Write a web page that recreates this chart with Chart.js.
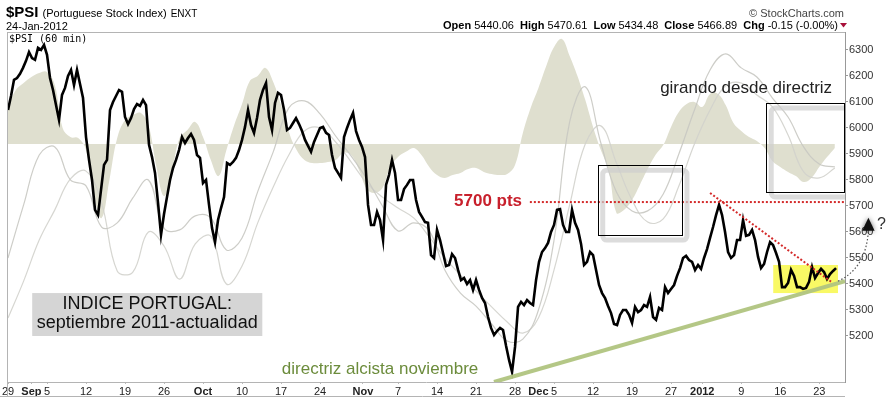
<!DOCTYPE html>
<html><head><meta charset="utf-8">
<script src="https://cdn.jsdelivr.net/npm/chart.js@4.4.1/dist/chart.umd.min.js"></script>
<style>html,body{margin:0;padding:0;background:#fff;overflow:hidden}canvas{display:block}</style>
</head><body>
<canvas id="c" width="888" height="398"></canvas>
<script>
// ---- x axis (trading days since 29-Aug-2011) ----
const tickDays   = [0,3,5,10,15,20,25,30,35,40,45.5,50,55,60,65,68,70,75,80,85,89,94,99,104];
const tickLabels = ['29','Sep','5','12','19','26','Oct','10','17','24','Nov','7','14','21','28','Dec','5','12','19','27','2012','9','16','23'];
const monthLabels = ['Sep','Oct','Nov','Dec','2012'];
// ---- y axis ----
const yTicks = [5200,5300,5400,5500,5600,5700,5800,5900,6000,6100,6200,6300];

// $PSI 60-min closes, sampled 2.6 times per trading day
const samplesPerDay = 2.6;
const psiValues = [
6069,6123,6185,6192,6208,6231,6258,6292,6269,6262,
6308,6300,6319,6281,6192,6146,6088,6031,6127,6154,
6200,6223,6165,6223,6169,6115,5965,5877,5800,5685,
5665,5762,5858,5877,6069,6100,6123,6146,6139,6042,
6015,6038,6073,6092,6085,6108,6088,5935,5888,5827,
5712,5589,5669,5735,5800,5846,5877,5915,5965,5942,
5961,5977,5954,5896,5885,5788,5800,5704,5615,5561,
5646,5692,5734,5865,5858,5869,5885,5915,5954,6004,
6069,6011,5981,6038,6108,6146,6173,6042,5992,6096,
6135,6127,6069,5992,6000,6019,6038,6015,5988,5954,
5931,5908,5946,5973,6000,6004,5981,5973,5896,5846,
5827,5808,5965,6000,6031,6058,5988,5954,5927,5888,
5704,5627,5627,5677,5646,5569,5781,5819,5877,5827,
5723,5723,5765,5781,5800,5800,5723,5677,5658,5638,
5635,5511,5500,5608,5569,5519,5469,5473,5515,5500,
5454,5415,5423,5400,5415,5377,5415,5377,5346,5327,
5273,5231,5204,5219,5231,5223,5162,5108,5062,5158,
5312,5331,5319,5338,5327,5319,5415,5485,5523,5538,
5558,5600,5627,5685,5688,5627,5600,5600,5685,5635,
5608,5554,5473,5485,5523,5511,5454,5396,5365,5346,
5315,5288,5246,5242,5281,5300,5300,5281,5250,5312,
5292,5300,5319,5312,5350,5273,5262,5308,5300,5388,
5365,5381,5396,5431,5461,5500,5508,5492,5485,5454,
5473,5458,5500,5534,5577,5619,5665,5704,5665,5600,
5523,5500,5511,5569,5569,5646,5585,5589,5608,5569,
5504,5461,5477,5523,5561,5550,5519,5485,5388,5388,
5404,5454,5431,5388,5388,5381,5385,5408,5465,5423,
5442,5458,5446,5419,5438,5450,5461];

// background oscillator (one value per trading day), filled around its centre line
const oscBaseline = 5938;
const oscValues = [
6080,6146,6173,6196,6211,6215,6165,6000,5965,5961,
5915,5742,5654,5800,5961,6031,6050,6058,6011,5854,
5738,5831,5961,5992,6023,5965,5877,5815,5915,6011,
6092,6181,6200,6231,6177,6088,5984,5915,5877,5865,
5865,5869,5877,5904,5896,5838,5765,5750,5769,5850,
5888,5908,5923,5896,5850,5819,5808,5819,5827,5842,
5846,5831,5823,5819,5823,5858,5981,6077,6154,6238,
6311,6342,6277,6200,6108,6004,5915,5838,5673,5685,
5723,5781,5842,5896,5934,6004,6061,6092,6100,6081,
6131,6131,6088,6019,5988,5965,5950,5923,5873,5850,
5831,5815,5792,5808,5850,5888,5923];

// faint overlay lines (one value every 2 trading days)
const overlayStepDays = 2;
const fastLine = [
5500,5704,5896,5927,5800,5777,5619,5635,5731,5800,
5615,5608,5662,5654,5531,5577,5754,5908,6077,6104,
6054,5969,5892,5804,5700,5604,5635,5604,5454,5365,
5315,5246,5181,5188,5300,5569,6023,6158,5942,5754,
5681,5681,5746,5900,6069,6223,6285,6231,6196,6115,
6042,5927,5861,5850];
const slowLine = [
5269,5411,5569,5685,5804,5834,5711,5450,5446,5600,
5546,5419,5554,5584,5400,5469,5634,5773,5896,5988,
6000,5946,5869,5788,5734,5692,5654,5581,5500,5434,
5373,5312,5254,5211,5269,5454,5704,5938,6008,5865,
5723,5638,5650,5777,5938,6069,6162,6173,6127,6081,
5973,5831,5808,5846];

const FONT = '"Liberation Sans", Arial, sans-serif';
Chart.defaults.font.family = FONT;

const pricePts = psiValues.map((v,i)=>({x:i/samplesPerDay, y:v}));
const oscPts = oscValues.map((v,k)=>({x:k, y:v}));
const fastPts = fastLine.map((v,j)=>({x:j*overlayStepDays, y:v}));
const slowPts = slowLine.map((v,j)=>({x:j*overlayStepDays, y:v}));

const annot = {
  id:'annot',
  beforeDatasetsDraw(chart){
    const {ctx, scales:{x:xs,y:ys}} = chart;
    const X=v=>xs.getPixelForValue(v), Y=v=>ys.getPixelForValue(v);
    ctx.save();
    ctx.fillStyle='#f9f965';
    ctx.fillRect(X(98.1), Y(5473), X(106.4)-X(98.1), Y(5365)-Y(5473));
    ctx.restore();
  },
  afterDatasetsDraw(chart){
    const {ctx, chartArea:a, scales:{x:xs,y:ys}} = chart;
    const X=v=>xs.getPixelForValue(v), Y=v=>ys.getPixelForValue(v);
    ctx.save();
    ctx.beginPath(); ctx.rect(a.left,a.top,a.right-a.left,a.bottom-a.top); ctx.clip();
    // green support line
    ctx.strokeStyle='rgba(176,196,128,0.95)'; ctx.lineWidth=4;
    ctx.beginPath(); ctx.moveTo(X(62.3),Y(5023)); ctx.lineTo(X(107.3),Y(5411)); ctx.stroke();
    // red 5700 level
    ctx.strokeStyle='#d42a2a'; ctx.lineWidth=2; ctx.setLineDash([2,2]);
    ctx.beginPath(); ctx.moveTo(X(66.9),Y(5715)); ctx.lineTo(a.right,Y(5715)); ctx.stroke();
    // red falling resistance
    ctx.beginPath(); ctx.moveTo(X(90.0),Y(5750)); ctx.lineTo(X(105.6),Y(5407)); ctx.stroke();
    ctx.setLineDash([]);
    // boxes with soft shadow
    const boxes = [[75.6,86.4,5588,5857],[97.2,107.2,5754,6096]];
    boxes.forEach(b=>{
      const x0=X(b[0]), x1=X(b[1]), y0=Y(b[3]), y1=Y(b[2]);
      ctx.strokeStyle='rgba(205,205,205,0.7)'; ctx.lineWidth=5;
      ctx.beginPath();
      if (ctx.roundRect) ctx.roundRect(x0+5,y0+5,x1-x0,y1-y0,4); else ctx.rect(x0+5,y0+5,x1-x0,y1-y0);
      ctx.stroke();
      ctx.strokeStyle='#000'; ctx.lineWidth=1;
      ctx.strokeRect(Math.round(x0)+0.5,Math.round(y0)+0.5,Math.round(x1-x0),Math.round(y1-y0));
    });
    // INDICE box
    const bx0=X(3.1), bx1=X(32.6), by0=Y(5365), by1=Y(5200);
    ctx.fillStyle='#d5d5d5'; ctx.fillRect(bx0,by0,bx1-bx0,by1-by0);
    ctx.fillStyle='#111'; ctx.textAlign='center'; ctx.textBaseline='alphabetic';
    ctx.font='18px '+FONT;
    ctx.fillText('INDICE PORTUGAL:', (bx0+bx1)/2, Y(5304));
    ctx.fillText('septiembre 2011-actualidad', (bx0+bx1)/2, Y(5231));
    // texts
    ctx.textAlign='right'; ctx.fillStyle='#c8202c'; ctx.font='bold 17px '+FONT;
    ctx.fillText('5700 pts', X(65.9), Y(5698));
    ctx.textAlign='left'; ctx.fillStyle='#222'; ctx.font='17px '+FONT;
    ctx.fillText('girando desde directriz', X(83.6), Y(6134));
    ctx.fillStyle='#6c8c3c'; ctx.font='17px '+FONT;
    ctx.fillText('directriz alcista noviembre', X(35.1), Y(5054));
    ctx.restore();
  },
  afterDraw(chart){
    const {ctx, chartArea:a, scales:{x:xs,y:ys}} = chart;
    const X=v=>xs.getPixelForValue(v), Y=v=>ys.getPixelForValue(v);
    ctx.save();
    // frame
    ctx.strokeStyle='#b4b4b4'; ctx.lineWidth=1;
    ctx.beginPath();
    ctx.moveTo(a.left,32.5); ctx.lineTo(a.right,32.5);
    ctx.moveTo(7.5,32); ctx.lineTo(7.5,396);
    ctx.moveTo(0,396.5); ctx.lineTo(a.right,396.5);
    ctx.stroke();
    // inner label
    ctx.fillStyle='#000'; ctx.font='10px "DejaVu Sans Mono", monospace'; ctx.textAlign='left';
    ctx.fillText('$PSI (60 min)', 9, 42);
    // header
    ctx.font='bold 15px '+FONT; ctx.fillText('$PSI',6,17);
    let w=ctx.measureText('$PSI').width;
    ctx.font='11px '+FONT; ctx.fillText('(Portuguese Stock Index)',6+w+4,17);
    let w2=ctx.measureText('(Portuguese Stock Index)').width;
    ctx.font='10px '+FONT; ctx.fillText('ENXT',6+w+4+w2+4,17);
    ctx.font='11px '+FONT; ctx.fillText('24-Jan-2012',6,30);
    ctx.fillStyle='#444'; ctx.textAlign='right'; ctx.fillText('\u00A9 StockCharts.com',844,17);
    const segs=[['Open',1],[' 5440.06  ',0],['High',1],[' 5470.61  ',0],['Low',1],[' 5434.48  ',0],['Close',1],[' 5466.89  ',0],['Chg',1],[' -0.15 (-0.00%)',0]];
    ctx.textAlign='left';
    let tot=0; segs.forEach(s=>{ctx.font=(s[1]?'bold ':'')+'11px '+FONT; tot+=ctx.measureText(s[0]).width;});
    let sx=838-tot; ctx.fillStyle='#000';
    segs.forEach(s=>{ctx.font=(s[1]?'bold ':'')+'11px '+FONT; ctx.fillText(s[0],sx,29); sx+=ctx.measureText(s[0]).width;});
    ctx.fillStyle='#a8103a'; ctx.beginPath(); ctx.moveTo(840,23); ctx.lineTo(847,23); ctx.lineTo(843.5,27.5); ctx.closePath(); ctx.fill();
    // curved question arrow
    ctx.strokeStyle='#555'; ctx.lineWidth=1.2; ctx.setLineDash([1.5,2]);
    ctx.beginPath(); ctx.moveTo(X(106.4),Y(5411)); ctx.quadraticCurveTo(X(110.0),Y(5460),X(110.3),Y(5605)); ctx.stroke();
    ctx.setLineDash([]);
    ctx.shadowColor='rgba(0,0,0,0.55)'; ctx.shadowBlur=5;
    ctx.fillStyle='#111'; ctx.beginPath();
    ctx.moveTo(X(110.3),Y(5655)); ctx.lineTo(X(109.5),Y(5605)); ctx.lineTo(X(111.1),Y(5605)); ctx.closePath(); ctx.fill();
    ctx.shadowBlur=0;
    ctx.fillStyle='#333'; ctx.font='16px '+FONT; ctx.fillText('?', X(111.4), Y(5612));
    ctx.restore();
  }
};

new Chart(document.getElementById('c'), {
  type:'line',
  data:{datasets:[
    {data:pricePts, borderColor:'#000', borderWidth:2.6, pointRadius:0, tension:0, fill:false, borderJoinStyle:'miter'},
    {data:fastPts, borderColor:'rgba(200,200,194,0.9)', borderWidth:1.2, pointRadius:0, tension:0.4, fill:false},
    {data:slowPts, borderColor:'rgba(210,210,204,0.9)', borderWidth:1.2, pointRadius:0, tension:0.4, fill:false},
    {data:oscPts, borderWidth:0, borderColor:'rgba(0,0,0,0)', backgroundColor:'#dfdfcf', pointRadius:0, tension:0.4, fill:{value:oscBaseline}}
  ]},
  options:{
    responsive:false, animation:false, devicePixelRatio:1,
    layout:{padding:{top:32,left:7,right:0,bottom:2}},
    plugins:{legend:{display:false}, tooltip:{enabled:false}},
    scales:{
      x:{type:'linear', min:-0.13, max:107.3,
        afterBuildTicks:s=>{s.ticks=tickDays.map(v=>({value:v}));},
        afterFit:s=>{s.height=14;},
        ticks:{autoSkip:false, maxRotation:0, minRotation:0, padding:1, color:'#222',
          font:c=>({family:FONT, size:11, weight:(c.index!=null && monthLabels.includes(tickLabels[c.index]))?'bold':'normal'}),
          callback:(v,i)=>tickLabels[i]},
        grid:{drawOnChartArea:false, drawTicks:true, tickLength:2, color:'#bbb'},
        border:{display:true, color:'#b4b4b4'}},
      y:{type:'linear', position:'right', min:5023, max:6369,
        afterBuildTicks:s=>{s.ticks=yTicks.map(v=>({value:v}));},
        afterFit:s=>{s.width=43;},
        ticks:{padding:1, color:'#333', font:{family:FONT,size:11}, callback:v=>String(v)},
        grid:{drawOnChartArea:false, tickLength:3, color:'#999'},
        border:{display:true, color:'#999'}}
    }
  },
  plugins:[annot]
});
</script>
</body></html>
